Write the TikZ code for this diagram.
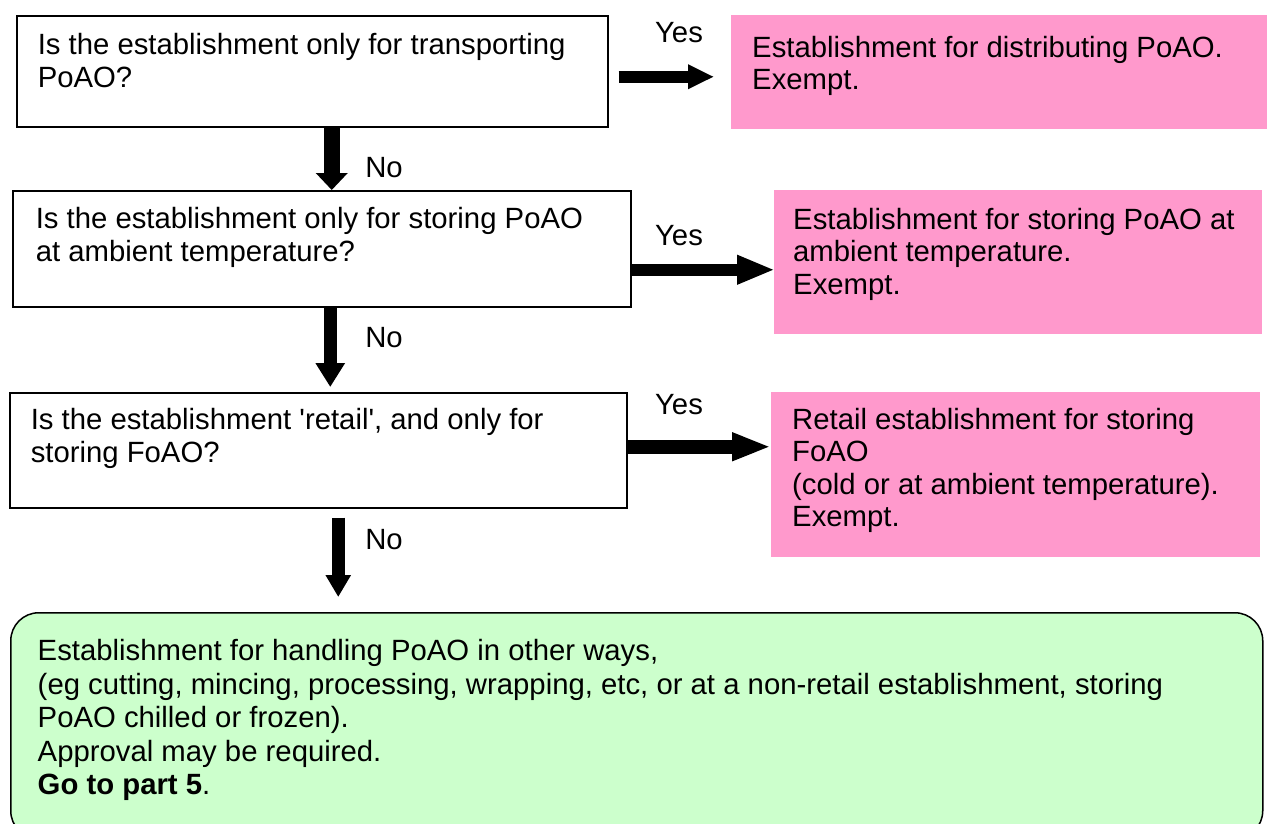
\documentclass[tikz,border=0pt]{standalone}
\usepackage{fontspec}
\setmainfont{Liberation Sans}
\usetikzlibrary{arrows.meta}
\definecolor{pinkbox}{RGB}{255,153,204}
\definecolor{greenbox}{RGB}{204,255,204}
\newcommand{\bxt}[5]{\begin{minipage}[c][#2][t]{#1}\vspace*{#4}\raggedright\leftskip=#3\relax #5\par\end{minipage}}
\tikzset{
  txt/.style={font=\fontsize{29.3}{32.5}\selectfont},
  wbox/.style={txt, draw=black, line width=1.5pt, fill=white, inner sep=0pt, anchor=north west},
  pbox/.style={txt, fill=pinkbox, inner sep=0pt, anchor=north west},
  gbox/.style={font=\fontsize{29.3}{33.5}\selectfont, draw=black, line width=1.5pt, fill=greenbox, rounded corners=28pt, inner sep=0pt, anchor=north west},
  lbl/.style={txt, inner sep=0pt},
}
\begin{document}
\begin{tikzpicture}[x=1pt,y=-1pt]
\useasboundingbox (0,0) rectangle (1267,823);
% question boxes
\node[wbox] (b1) at (16,15) {\bxt{591pt}{111pt}{21pt}{18pt}{Is the establishment only for transporting\\PoAO?}};
\node[wbox] (b2) at (12,190) {\bxt{618pt}{116pt}{23pt}{17pt}{Is the establishment only for storing PoAO\\at ambient temperature?}};
\node[wbox] (b3) at (9,392) {\bxt{617pt}{115pt}{21pt}{16pt}{Is the establishment \textquotesingle retail\textquotesingle, and only for\\storing FoAO?}};
% outcome boxes
\node[pbox] (p1) at (731,15) {\bxt{536pt}{114pt}{21pt}{21pt}{Establishment for distributing PoAO.\\Exempt.}};
\node[pbox] (p2) at (774,190) {\bxt{488pt}{144pt}{19pt}{18pt}{Establishment for storing PoAO at\\ambient temperature.\\Exempt.}};
\node[pbox] (p3) at (771,392) {\bxt{489pt}{165pt}{21pt}{16pt}{Retail establishment for storing\\FoAO\\(cold or at ambient temperature).\\Exempt.}};
\node[gbox] (g) at (10,612) {\bxt{1252pt}{226pt}{27pt}{27pt}{Establishment for handling PoAO in other ways,\\(eg cutting, mincing, processing, wrapping, etc, or at a non-retail establishment, storing\\PoAO chilled or frozen).\\Approval may be required.\\\textbf{Go to part 5}.}};
% Yes arrows
\draw[line width=12pt, -{Triangle[width=23pt,length=26pt]}, shorten >=17pt]
  ([xshift=10pt,yshift=-5.5pt]b1.east) coordinate (y1s) -- (y1s -| p1.west)
  node[lbl] at (679,33) (yes1) {Yes};
\draw[line width=12pt, -{Triangle[width=27pt,length=38pt]}, shorten >=-1pt]
  ([yshift=-21pt]b2.east) coordinate (y2s) -- (y2s -| p2.west)
  node[lbl] at (679,236) (yes2) {Yes};
\draw[line width=14pt, -{Triangle[width=26pt,length=39pt]}]
  ([yshift=3.5pt]b3.east) coordinate (y3s) -- (y3s -| p3.west)
  node[lbl] at (679,405) (yes3) {Yes};
% No arrows
\draw[line width=16pt, -{Triangle[width=31pt,length=17pt]}]
  ([xshift=19.5pt]b1.south) coordinate (n1s) -- (n1s |- b2.north)
  node[lbl] at (384,168) (no1) {No};
\draw[line width=13pt, -{Triangle[width=28pt,length=24pt]}, shorten >=5pt]
  ([xshift=8.5pt]b2.south) coordinate (n2s) -- (n2s |- b3.north)
  node[lbl] at (384,338) (no2) {No};
\draw[line width=13pt, -{Triangle[width=24pt,length=22pt]}, shorten >=15pt]
  ([xshift=20pt,yshift=-9pt]b3.south) coordinate (n3s) -- (n3s |- g.north)
  node[lbl] at (384,540) (no3) {No};
\end{tikzpicture}
\end{document}
